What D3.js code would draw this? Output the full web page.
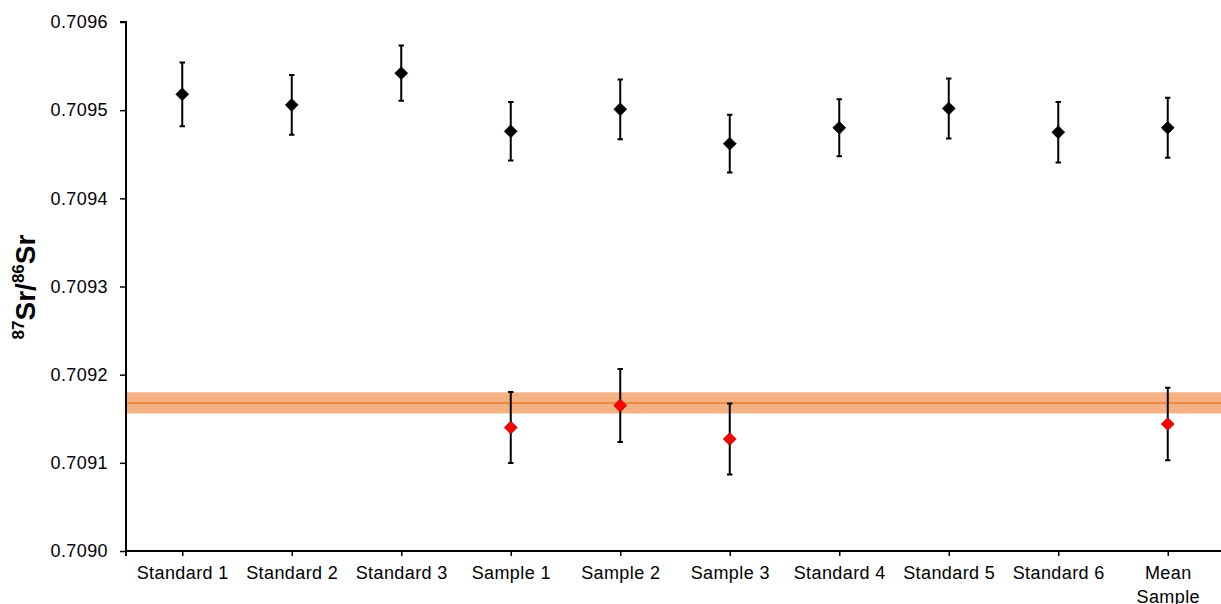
<!DOCTYPE html>
<html>
<head>
<meta charset="utf-8">
<script src="https://cdn.jsdelivr.net/npm/d3@7"></script>
<style>
  body { margin: 0; background: #fff; }
  svg { font-family: "Liberation Sans", Arial, sans-serif; }
</style>
</head>
<body>
<script>
// categories on the x axis
const categories = ["Standard 1", "Standard 2", "Standard 3", "Sample 1", "Sample 2",
  "Sample 3", "Standard 4", "Standard 5", "Standard 6", "Mean Sample"];

// black diamonds (all categories)
const blackValues = [0.709518, 0.709506, 0.709542, 0.709476, 0.709501,
  0.709462, 0.709480, 0.709502, 0.709475, 0.709480];
const blackErrors = [0.0000362, 0.0000340, 0.0000314, 0.0000332, 0.0000339,
  0.0000327, 0.0000324, 0.0000340, 0.0000344, 0.0000340];

// red diamonds (samples only)
const redCategories = ["Sample 1", "Sample 2", "Sample 3", "Mean Sample"];
const redValues = [0.709140, 0.709165, 0.709127, 0.709144];
const redErrors = [0.0000402, 0.0000415, 0.0000403, 0.0000412];

// reference band
const refValue = 0.709168;
const refLow = 0.709156;
const refHigh = 0.709180;

const yTicks = [0.7090, 0.7091, 0.7092, 0.7093, 0.7094, 0.7095, 0.7096];

let width = 1221, height = 604;
let margin = {left: 126, right: 0, top: 22, bottom: 53};

let svg = d3.select("body").append("svg")
  .attr("width", width)
  .attr("height", height);

let x = d3.scalePoint()
  .domain(categories)
  .range([182.25, 1167.75]);

let y = d3.scaleLinear()
  .domain([0.7090, 0.7096])
  .range([height - margin.bottom, margin.top]);

//Banda de referencia
svg.append("rect")
  .attr("x", margin.left)
  .attr("y", y(refHigh))
  .attr("width", width - margin.left)
  .attr("height", y(refLow) - y(refHigh))
  .attr("fill", "#F4B183");

svg.append("line")
  .attr("x1", margin.left)
  .attr("x2", width)
  .attr("y1", y(refValue))
  .attr("y2", y(refValue))
  .attr("stroke", "#ED7D31")
  .attr("stroke-width", 1.5);

//Ejes
let yAxis = svg.append("g")
  .attr("transform", `translate(${margin.left},0)`)
  .call(d3.axisLeft(y).tickValues(yTicks).tickFormat(d3.format(".4f")).tickSize(6).tickPadding(12));

let xAxis = svg.append("g")
  .attr("transform", `translate(0,${height - margin.bottom})`)
  .call(d3.axisBottom(x).tickSize(5).tickPadding(10));

xAxis.select(".domain").attr("d", `M${margin.left},5V0H${width}`);

[yAxis, xAxis].forEach(g => {
  g.attr("font-size", null).attr("font-family", null);
  g.select(".domain").attr("stroke", "#000").attr("stroke-width", 2);
  g.selectAll(".tick line").attr("stroke", "#000").attr("stroke-width", 1.5);
  g.selectAll("text")
    .attr("fill", "#000")
    .style("font-size", "18px")
    .style("letter-spacing", "0.4px");
});
yAxis.select(".domain").attr("d", `M-6,${y(0.7096)}H0V${height - margin.bottom}`);

//Etiqueta "Mean Sample" en dos líneas
let meanLabel = xAxis.selectAll(".tick text")
  .filter(d => d === "Mean Sample");
meanLabel.text(null)
  .selectAll("tspan")
  .data(["Mean", "Sample"])
  .join("tspan")
  .attr("x", 0)
  .attr("dy", (d, i) => i === 0 ? "0.71em" : "1.33em")
  .text(d => d);
meanLabel.attr("dy", null);

//Título del eje y
let ylab = svg.append("text")
  .attr("transform", "translate(35,287) rotate(-90)")
  .attr("text-anchor", "middle")
  .attr("font-weight", "bold")
  .style("font-size", "28px")
  .attr("fill", "#000");
ylab.append("tspan").style("font-size", "17px").attr("dy", -11).text("87");
ylab.append("tspan").attr("dy", 11).text("Sr/");
ylab.append("tspan").style("font-size", "17px").attr("dy", -11).text("86");
ylab.append("tspan").attr("dy", 11).text("Sr");

//Barras de error y puntos
function drawSeries(cats, vals, errs, fill, stroke) {
  let data = cats.map((c, i) => ({c: c, v: vals[i], e: errs[i]}));
  let g = svg.append("g");
  let cap = 2.7;
  g.selectAll(".err")
    .data(data)
    .join("path")
    .attr("d", d => {
      let cx = x(d.c), t = y(d.v + d.e), b = y(d.v - d.e);
      return `M${cx},${t}V${b}M${cx - cap},${t}H${cx + cap}M${cx - cap},${b}H${cx + cap}`;
    })
    .attr("fill", "none")
    .attr("stroke", "#000")
    .attr("stroke-width", 2);
  g.selectAll(".pt")
    .data(data)
    .join("path")
    .attr("transform", d => `translate(${x(d.c)},${y(d.v)})`)
    .attr("d", "M0,-6.5L6.5,0L0,6.5L-6.5,0Z")
    .attr("fill", fill)
    .attr("stroke", stroke)
    .attr("stroke-width", 0.6);
}

drawSeries(categories, blackValues, blackErrors, "#000", "#000");
drawSeries(redCategories, redValues, redErrors, "#FF0000", "#7a0000");
</script>
</body>
</html>
